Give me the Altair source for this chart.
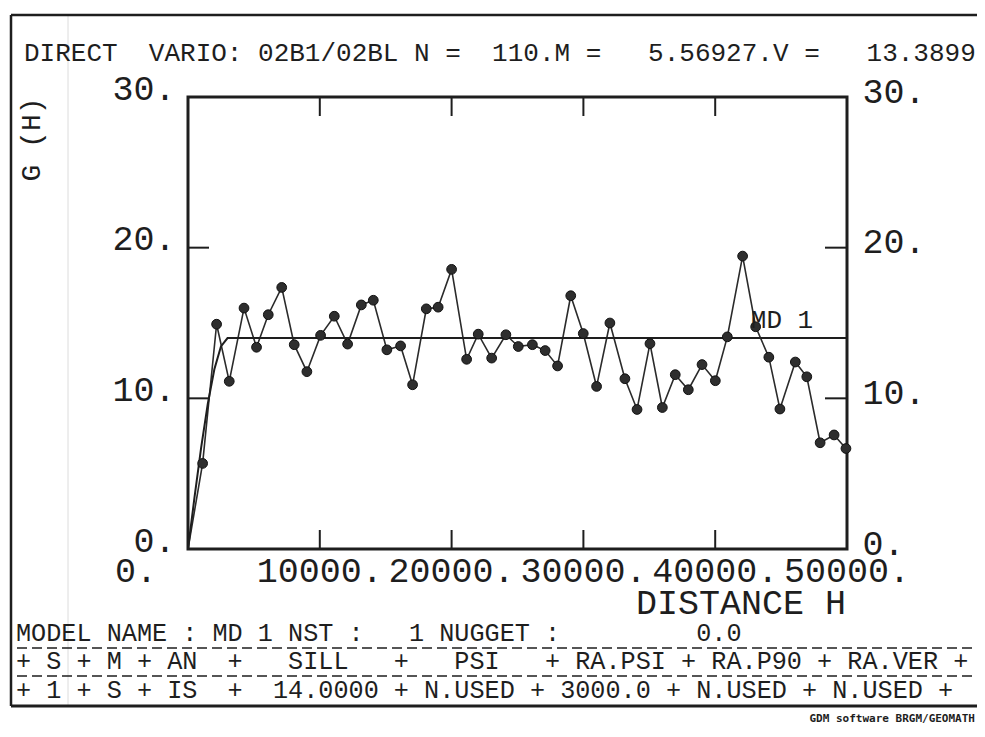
import altair as alt
import pandas as pd

# ---------------- data ----------------
distance = [1110, 2170, 3130, 4250, 5200, 6090, 7110, 8060, 9020, 10060,
            11100, 12110, 13150, 14060, 15090, 16130, 17040, 18080, 18980, 20000,
            21140, 22020, 23040, 24120, 25060, 26130, 27100, 28040, 29040, 29990,
            31000, 32010, 33150, 34070, 35050, 35990, 36970, 37960, 39000, 40010,
            40920, 42080, 43070, 44070, 44910, 46080, 46950, 47960, 49020, 49920]
gamma = [5.68, 14.92, 11.13, 15.99, 13.39, 15.55, 17.36, 13.56, 11.77, 14.18,
         15.45, 13.60, 16.20, 16.51, 13.22, 13.48, 10.90, 15.94, 16.05, 18.56,
         12.59, 14.26, 12.67, 14.22, 13.44, 13.56, 13.17, 12.15, 16.81, 14.30,
         10.79, 15.00, 11.30, 9.26, 13.63, 9.39, 11.57, 10.57, 12.24, 11.17,
         14.08, 19.44, 14.75, 12.73, 9.29, 12.41, 11.43, 7.05, 7.57, 6.67]
line_origin = [0]
line_origin_gamma = [0.0]

# spherical model MD 1 : sill 14, range 3000, nugget 0
model_dist = [0, 500, 1000, 1500, 2000, 2500, 3000, 50000]
model_gamma = [0.0, 3.47, 6.74, 9.63, 11.93, 13.45, 14.0, 14.0]

x_ticks = [0, 10000, 20000, 30000, 40000, 50000]
x_tick_labels = ["0.", "10000.", "20000.", "30000.", "40000.", "50000."]
y_ticks = [0, 10, 20, 30]
x_inner_ticks = [10000, 20000, 30000, 40000]
y_inner_ticks = [10, 20]

model_label = ["MD 1"]
model_label_x = [42700]
model_label_y = [15.2]

header = "DIRECT  VARIO: 02B1/02BL N =  110.M =   5.56927.V =   13.3899"
row1 = "MODEL NAME : MD 1 NST :   1 NUGGET :         0.0"
row2 = "+ S + M + AN  +   SILL   +   PSI   + RA.PSI + RA.P90 + RA.VER +"
row3 = "+ 1 + S + IS  +  14.0000 + N.USED + 3000.0 + N.USED + N.USED +"
credit = "GDM software BRGM/GEOMATH"
x_title = "DISTANCE H"
y_title = "G (H)"

NB = "\u00a0"


def keep_spaces(s):
    return s.replace(" ", NB)


# ---------------- layout ----------------
W, H = 659, 452
OX, OY = 188, 97          # page position of the plot area
INK = "#1e1e1e"
MONO = "Liberation Mono"

xs = alt.Scale(domain=[0, 50000], nice=False, zero=False)
ys = alt.Scale(domain=[0, 30], nice=False, zero=False)

pts = pd.DataFrame({"d": distance, "g": gamma})
line_df = pd.DataFrame({"d": line_origin + distance, "g": line_origin_gamma + gamma})
model_df = pd.DataFrame({"d": model_dist, "g": model_gamma})

y_axis_left = alt.Axis(values=y_ticks, labelExpr="datum.value + '.'", orient="left",
                       ticks=False, domain=False, grid=False,
                       labelFont=MONO, labelFontSize=35, labelColor=INK, labelPadding=13,
                       labelBaseline="alphabetic", labelOffset=2,
                       labelFlush=False, labelOverlap=False, labelBound=False,
                       title=y_title, titleX=31 - OX, titleY=139 - OY, titleAngle=270,
                       titleAlign="center", titleBaseline="middle",
                       titleFont=MONO, titleFontSize=28, titleFontWeight="normal", titleColor=INK)

y_axis_right = alt.Axis(values=y_ticks, labelExpr="datum.value + '.'", orient="right",
                        ticks=False, domain=False, grid=False,
                        labelFont=MONO, labelFontSize=35, labelColor=INK, labelPadding=15,
                        labelBaseline="alphabetic", labelOffset=5,
                        labelFlush=False, labelOverlap=False, labelBound=False, title=None)

exp_line = alt.Chart(line_df).mark_line(color="#2b2b2b", strokeWidth=1.6).encode(
    x=alt.X("d:Q", scale=xs, axis=None),
    y=alt.Y("g:Q", scale=ys, axis=y_axis_left),
    order="d:Q",
)

model_line = alt.Chart(model_df).mark_line(color=INK, strokeWidth=2).encode(
    x=alt.X("d:Q", scale=xs, axis=None),
    y=alt.Y("g:Q", scale=ys, axis=y_axis_right),
    order="d:Q",
)

dots = alt.Chart(pts).mark_point(filled=True, size=95, color="#2e2e2e",
                                 stroke="#111", strokeWidth=1, opacity=1).encode(
    x=alt.X("d:Q", scale=xs, axis=None),
    y=alt.Y("g:Q", scale=ys, axis=None),
)

lab = alt.Chart(pd.DataFrame({"t": model_label, "x": model_label_x, "y": model_label_y})).mark_text(
    align="left", baseline="middle", font=MONO, fontSize=26, color=INK).encode(
    x=alt.X("x:Q", scale=xs, axis=None),
    y=alt.Y("y:Q", scale=ys, axis=None),
    text="t:N",
)

# x tick labels drawn through the x scale ("0." sits left of its tick, as on the plotter)
xl = pd.DataFrame({"v": x_ticks, "t": x_tick_labels})
x_labels = alt.Chart(xl).transform_filter("datum.v > 0").mark_text(
    align="center", baseline="alphabetic", font=MONO, fontSize=35, color=INK).encode(
    x=alt.X("v:Q", scale=xs, axis=None), y=alt.value(H + 33), text="t:N")
x_label0 = alt.Chart(xl).transform_filter("datum.v == 0").mark_text(
    align="center", baseline="alphabetic", font=MONO, fontSize=35, color=INK, dx=-52).encode(
    x=alt.X("v:Q", scale=xs, axis=None), y=alt.value(H + 33), text="t:N")

xt = pd.DataFrame({"v": x_inner_ticks})
yt = pd.DataFrame({"v": y_inner_ticks})
tick_bottom = alt.Chart(xt).mark_rule(color=INK, strokeWidth=2).encode(
    x=alt.X("v:Q", scale=xs, axis=None), y=alt.value(H), y2=alt.value(H - 19))
tick_top = alt.Chart(xt).mark_rule(color=INK, strokeWidth=2).encode(
    x=alt.X("v:Q", scale=xs, axis=None), y=alt.value(0), y2=alt.value(19))
tick_left = alt.Chart(yt).mark_rule(color=INK, strokeWidth=2).encode(
    y=alt.Y("v:Q", scale=ys, axis=None), x=alt.value(0), x2=alt.value(21))
tick_right = alt.Chart(yt).mark_rule(color=INK, strokeWidth=2).encode(
    y=alt.Y("v:Q", scale=ys, axis=None), x=alt.value(W - 22), x2=alt.value(W))


def text_at(s, px, py, size, font=MONO, weight="normal", align="left", color=INK):
    return alt.Chart(pd.DataFrame({"t": [keep_spaces(s)]})).mark_text(
        align=align, baseline="alphabetic", font=font, fontSize=size,
        fontWeight=weight, color=color).encode(
        x=alt.value(px - OX), y=alt.value(py - OY), text="t:N")


def rule_at(x1, y1, x2, y2, width, color=INK, dash=None):
    kw = {"color": color, "strokeWidth": width}
    if dash:
        kw["strokeDash"] = dash
    return alt.Chart(pd.DataFrame({"a": [0]})).mark_rule(**kw).encode(
        x=alt.value(x1 - OX), x2=alt.value(x2 - OX), y=alt.value(y1 - OY), y2=alt.value(y2 - OY))


decor = [
    rule_at(68, 15, 68, 706, 1, color="#dcdcdc"),
    rule_at(11, 15, 11, 706, 2.5),
    rule_at(11, 15, 985, 15, 2.5),
    rule_at(11, 706, 985, 706, 3),
    rule_at(17, 648, 972, 648, 1.6, dash=[10, 5]),
    rule_at(17, 676, 972, 676, 1.6, dash=[10, 5]),
    text_at(header, 24, 61, 26),
    text_at(x_title, 846, 614, 35, align="right"),
    text_at(row1, 16, 641, 25.2),
    text_at(row2, 16, 669, 25.2),
    text_at(row3, 16, 698, 25.2),
    text_at(credit, 975, 722, 11, font="DejaVu Sans Mono", weight="bold", align="right"),
]

chart = alt.layer(
    exp_line, model_line, dots, lab, x_labels, x_label0,
    tick_bottom, tick_top, tick_left, tick_right,
    *decor,
).properties(
    width=W, height=H,
    autosize=alt.AutoSizeParams(type="none"),
    padding={"left": 180, "top": 89, "right": 130, "bottom": 178},
    background="white",
).configure_view(stroke=INK, strokeWidth=3)

chart.save("out.html", embed_options={"renderer": "svg", "actions": False})
